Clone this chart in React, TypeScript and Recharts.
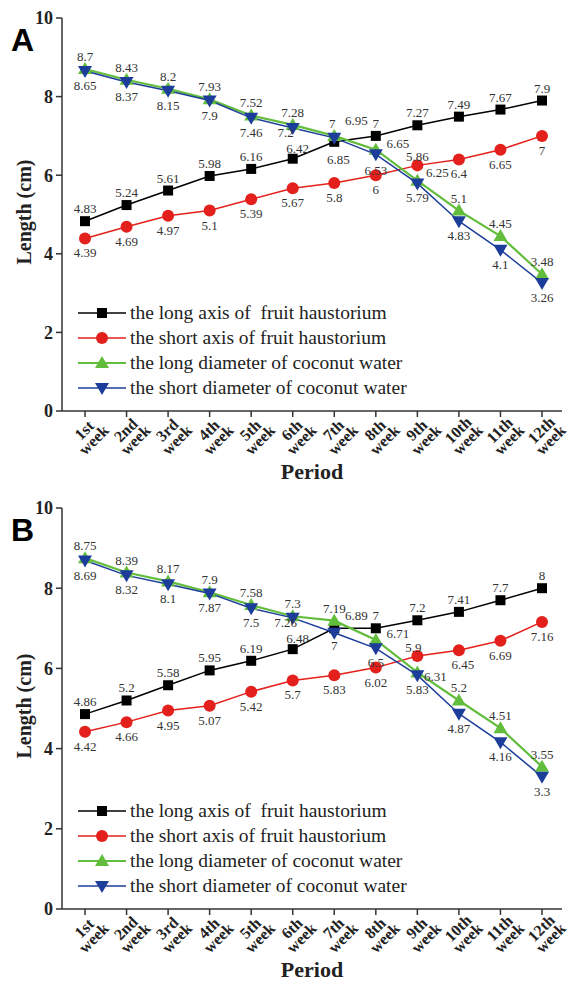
import React from 'react';
import { LineChart, Line, XAxis, YAxis, LabelList, Legend } from 'recharts';

const weeks = ['1st', '2nd', '3rd', '4th', '5th', '6th', '7th', '8th', '9th', '10th', '11th', '12th'];
const yTicks = [0, 2, 4, 6, 8, 10];

// panel A
const aLongAxis = [4.83, 5.24, 5.61, 5.98, 6.16, 6.42, 6.85, 7, 7.27, 7.49, 7.67, 7.9];
const aShortAxis = [4.39, 4.69, 4.97, 5.1, 5.39, 5.67, 5.8, 6, 6.25, 6.4, 6.65, 7];
const aLongDiam = [8.7, 8.43, 8.2, 7.93, 7.52, 7.28, 7, 6.65, 5.86, 5.1, 4.45, 3.48];
const aShortDiam = [8.65, 8.37, 8.15, 7.9, 7.46, 7.2, 6.95, 6.53, 5.79, 4.83, 4.1, 3.26];

// panel B
const bLongAxis = [4.86, 5.2, 5.58, 5.95, 6.19, 6.48, 7, 7, 7.2, 7.41, 7.7, 8];
const bShortAxis = [4.42, 4.66, 4.95, 5.07, 5.42, 5.7, 5.83, 6.02, 6.31, 6.45, 6.69, 7.16];
const bLongDiam = [8.75, 8.39, 8.17, 7.9, 7.58, 7.3, 7.19, 6.71, 5.9, 5.2, 4.51, 3.55];
const bShortDiam = [8.69, 8.32, 8.1, 7.87, 7.5, 7.26, 6.89, 6.5, 5.83, 4.87, 4.16, 3.3];

const SERIF = '"Liberation Serif", "DejaVu Serif", serif';

const SERIES = [
  { key: 'longAxis', name: 'the long axis of  fruit haustorium', color: '#000000', width: 1.5, shape: 'square', pos: 'top' },
  { key: 'shortAxis', name: 'the short axis of fruit haustorium', color: '#e3201b', width: 1.5, shape: 'circle', pos: 'bottom' },
  { key: 'longDiam', name: 'the long diameter of coconut water', color: '#62bd3c', width: 2.2, shape: 'up', pos: 'top' },
  { key: 'shortDiam', name: 'the short diameter of coconut water', color: '#1d3d9a', width: 1.5, shape: 'down', pos: 'bottom' },
];

// label nudges around the crossing region: [series key][index] -> [dx, dy]
const NUDGE_A: Record<string, Record<number, [number, number]>> = {
  longAxis: { 5: [5, 2], 6: [4, 30] },
  shortDiam: { 5: [-7, -10], 6: [22, -32], 7: [0, 2] },
  longDiam: { 6: [-2, 0], 7: [22, 6], 8: [0, -12] },
  shortAxis: { 8: [20, -7] },
};
const NUDGE_B: Record<string, Record<number, [number, number]>> = {
  longAxis: { 5: [5, 2], 6: [0, 30] },
  shortDiam: { 5: [-7, -10], 6: [22, -32] },
  longDiam: { 7: [22, 6], 8: [-4, -12] },
  shortAxis: { 8: [18, 6], 9: [4, 0] },
};

function Marker({ cx, cy, shape, color }: any) {
  if (cx == null || cy == null) return null;
  if (shape === 'square') return <rect x={cx - 5} y={cy - 5} width={10} height={10} fill={color} />;
  if (shape === 'circle') return <circle cx={cx} cy={cy} r={6} fill={color} />;
  if (shape === 'up')
    return <path d={`M${cx},${cy - 7}L${cx + 7},${cy + 5}L${cx - 7},${cy + 5}Z`} fill={color} />;
  return <path d={`M${cx - 7},${cy - 5}L${cx + 7},${cy - 5}L${cx},${cy + 7}Z`} fill={color} />;
}

function WeekTick({ x, y, payload }: any) {
  return (
    <g transform={`translate(${x + 3},${y + 15})`}>
      <text transform="rotate(-45)" textAnchor="middle" fontFamily={SERIF} fontWeight="bold" fontSize={16} fill="#222">
        <tspan x={0} dy={0}>{payload.value}</tspan>
        <tspan x={0} dy="0.85em">week</tspan>
      </text>
    </g>
  );
}

function LegendBox() {
  return (
    <div>
      {SERIES.map((s) => (
        <div key={s.key} style={{ display: 'flex', alignItems: 'center', height: 25 }}>
          <svg width={48} height={16} style={{ marginRight: 4 }}>
            <line x1={0} x2={48} y1={8} y2={8} stroke={s.color} strokeWidth={s.width} />
            <Marker cx={24} cy={8} shape={s.shape} color={s.color} />
          </svg>
          <span style={{ fontFamily: SERIF, fontSize: 19.5, color: '#222', whiteSpace: 'pre' }}>{s.name}</span>
        </div>
      ))}
    </div>
  );
}

function Panel({ letter, values, nudge, height, xHeight, legendTop }: any) {
  const data = weeks.map((w, i) => ({
    week: w,
    longAxis: values[0][i],
    shortAxis: values[1][i],
    longDiam: values[2][i],
    shortDiam: values[3][i],
  }));
  return (
    <div style={{ position: 'relative', width: 572, height }}>
      <div style={{ position: 'absolute', left: 11, top: 22, fontFamily: '"Liberation Sans", Arial, sans-serif', fontWeight: 'bold', fontSize: 32, zIndex: 2 }}>
        {letter}
      </div>
      <LineChart width={572} height={height} data={data} margin={{ top: 18, right: 10, left: 0, bottom: 0 }}>
        <XAxis
          dataKey="week"
          height={xHeight}
          padding={{ left: 23, right: 20 }}
          interval={0}
          tick={<WeekTick />}
          tickSize={6}
          axisLine={{ stroke: '#333', strokeWidth: 1.5 }}
          tickLine={{ stroke: '#333', strokeWidth: 1.5 }}
          label={{ value: 'Period', position: 'insideBottom', offset: xHeight - 68, fontFamily: SERIF, fontWeight: 'bold', fontSize: 22, fill: '#222' }}
        />
        <XAxis xAxisId="top" orientation="top" dataKey="week" height={0} tick={false} tickLine={false} axisLine={{ stroke: '#444', strokeWidth: 1.5 }} />
        <YAxis
          domain={[0, 10]}
          ticks={yTicks}
          width={62}
          tickSize={6}
          tickMargin={3}
          axisLine={{ stroke: '#333', strokeWidth: 1.5 }}
          tickLine={{ stroke: '#333', strokeWidth: 1.5 }}
          tick={{ fontFamily: SERIF, fontWeight: 'bold', fontSize: 18, fill: '#222' }}
          label={{ value: 'Length (cm)', angle: -90, position: 'insideLeft', offset: 24, dy: 50, fontFamily: SERIF, fontWeight: 'bold', fontSize: 20, fill: '#222' }}
        />
        <YAxis yAxisId="right" orientation="right" domain={[0, 10]} width={0} tick={false} tickLine={false} axisLine={{ stroke: '#444', strokeWidth: 1.5 }} />
        <Legend
          layout="vertical"
          align="center"
          verticalAlign="middle"
          content={<LegendBox />}
          wrapperStyle={{ left: 78, top: legendTop, width: 440 }}
        />
        {SERIES.map((s) => (
          <Line
            key={s.key}
            dataKey={s.key}
            name={s.name}
            stroke={s.color}
            strokeWidth={s.width}
            isAnimationActive={false}
            dot={(p: any) => <Marker key={`${s.key}-${p.index}`} cx={p.cx} cy={p.cy} shape={s.shape} color={s.color} />}
            activeDot={false}
          >
            <LabelList
              dataKey={s.key}
              content={(p: any) => {
                const n = (nudge[s.key] || {})[p.index] || [0, 0];
                const dy = s.pos === 'top' ? -8 : 19;
                return (
                  <text x={p.x + n[0]} y={p.y + dy + n[1]} textAnchor="middle" fontFamily={SERIF} fontSize={13} fill="#333">
                    {p.value}
                  </text>
                );
              }}
            />
          </Line>
        ))}
      </LineChart>
    </div>
  );
}

export default function App() {
  return (
    <div style={{ position: 'absolute', left: 0, top: 0, width: 572, height: 982, background: '#fff' }}>
      <Panel letter="A" values={[aLongAxis, aShortAxis, aLongDiam, aShortDiam]} nudge={NUDGE_A} height={490} xHeight={79} legendTop={300} />
      <Panel letter="B" values={[bLongAxis, bShortAxis, bLongDiam, bShortDiam]} nudge={NUDGE_B} height={492} xHeight={73} legendTop={308} />
    </div>
  );
}
